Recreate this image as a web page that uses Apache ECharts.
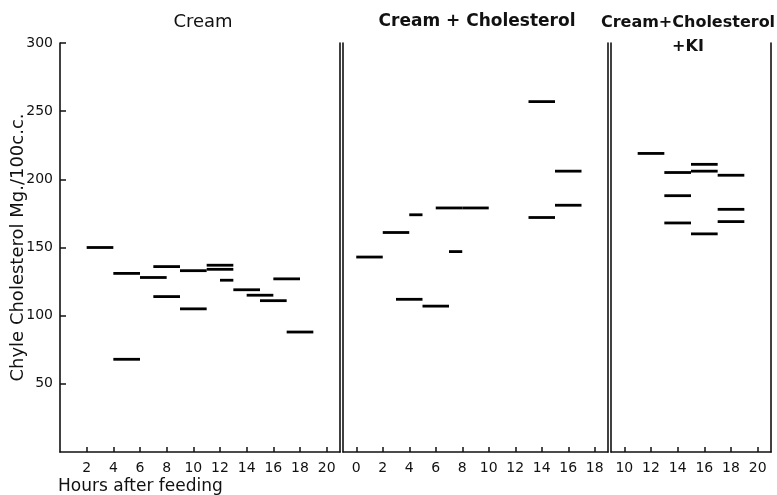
<!DOCTYPE html>
<html><head><meta charset="utf-8">
<script src="https://cdn.jsdelivr.net/npm/echarts@6/dist/echarts.min.js"></script>
<style>html,body{margin:0;padding:0;background:#fff}#c{width:777px;height:495px}</style>
</head><body><div id="c"></div>
<script>
// Tick labels
const yTicks = [50, 100, 150, 200, 250, 300];
const creamTicks = [2, 4, 6, 8, 10, 12, 14, 16, 18, 20];
const cholTicks = [0, 2, 4, 6, 8, 10, 12, 14, 16, 18];
const kiTicks = [10, 12, 14, 16, 18, 20];
// Panel titles
const panelTitles = ['Cream', 'Cream + Cholesterol', 'Cream+Cholesterol\n+KI'];
// Panel 1: Cream (start hour, end hour, value)
const creamStart = [2, 4, 4, 6, 7, 7, 9, 9, 11, 11, 12, 13, 14, 15, 16, 17];
const creamEnd   = [4, 6, 6, 8, 9, 9, 11, 11, 13, 13, 13, 15, 16, 17, 18, 19];
const creamValue = [150, 131, 68, 128, 136, 114, 133, 105, 137, 134, 126, 119, 115, 111, 127, 88];
// Panel 2: Cream + Cholesterol
const cholStart = [0, 2, 3, 4, 5, 6, 7, 8, 13, 13, 15, 15];
const cholEnd   = [2, 4, 5, 5, 7, 8, 8, 10, 15, 15, 17, 17];
const cholValue = [143, 161, 112, 174, 107, 179, 147, 179, 257, 172, 206, 181];
// Panel 3: Cream + Cholesterol + KI
const kiStart = [11, 13, 13, 13, 15, 15, 15, 17, 17, 17];
const kiEnd   = [13, 15, 15, 15, 17, 17, 17, 19, 19, 19];
const kiValue = [219, 205, 188, 168, 211, 206, 160, 203, 178, 169];

const font = '"DejaVu Sans", sans-serif';
const chart = echarts.init(document.getElementById('c'), null, {renderer: 'canvas'});

const grids = [
  {left: 60, width: 280, top: 43, bottom: 43},
  {left: 343, width: 265, top: 43, bottom: 43},
  {left: 611, width: 160, top: 43, bottom: 43}
];
const xRanges = [[0, 21, creamTicks], [-1, 19, cholTicks], [9, 21, kiTicks]];
const lineStyle = {color: '#111', width: 1.6};

const xAxes = xRanges.map((r, i) => ({
  type: 'value', gridIndex: i, min: r[0], max: r[1],
  axisLine: {show: true, onZero: false, lineStyle},
  axisTick: {show: true, inside: true, length: 5, customValues: r[2], lineStyle: {color: '#111', width: 1.5}},
  axisLabel: {show: true, customValues: r[2], color: '#111', fontFamily: font, fontSize: 14, margin: 9},
  splitLine: {show: false}
}));

const yAxes = [];
grids.forEach((g, i) => {
  yAxes.push({
    type: 'value', gridIndex: i, min: 0, max: 300, position: 'left',
    axisLine: {show: true, onZero: false, lineStyle},
    axisTick: {show: i === 0, inside: true, length: 6, customValues: yTicks, lineStyle: {color: '#111', width: 1.5}},
    axisLabel: {show: i === 0, customValues: yTicks, color: '#111', fontFamily: font, fontSize: 14, margin: 7},
    splitLine: {show: false},
    name: i === 0 ? 'Chyle Cholesterol Mg./100c.c.' : '',
    nameLocation: 'middle', nameGap: 33, nameRotate: 90, nameMoveOverlap: false,
    nameTextStyle: {fontFamily: font, fontSize: 18, color: '#111'}
  });
  yAxes.push({
    type: 'value', gridIndex: i, min: 0, max: 300, position: 'right',
    axisLine: {show: true, onZero: false, lineStyle},
    axisTick: {show: false}, axisLabel: {show: false}, splitLine: {show: false}
  });
});

function dashSeries(idx, start, end, value) {
  return {
    type: 'custom', xAxisIndex: idx, yAxisIndex: idx * 2, silent: true,
    data: start.map((s, i) => [s, end[i], value[i]]),
    encode: {x: [0, 1], y: 2},
    renderItem: (params, api) => {
      const p0 = api.coord([api.value(0), api.value(2)]);
      const p1 = api.coord([api.value(1), api.value(2)]);
      return {type: 'line', shape: {x1: p0[0], y1: p0[1], x2: p1[0], y2: p1[1]},
        style: {stroke: '#000', lineWidth: 2.8}};
    }
  };
}

const titleCenters = [[203, 22, 'normal', 18], [477, 22, 'bold', 17], [688, 35, 'bold', 16]];
const graphics = panelTitles.map((t, i) => ({
  type: 'text', x: titleCenters[i][0], y: titleCenters[i][1],
  style: {text: t, textAlign: 'center', textVerticalAlign: 'middle', lineHeight: 24,
    font: titleCenters[i][2] + ' ' + titleCenters[i][3] + 'px ' + font, fill: '#111'}
}));
graphics.push({type: 'text', x: 58, y: 487,
  style: {text: 'Hours after feeding', textAlign: 'left', textVerticalAlign: 'middle',
    font: 'normal 17px ' + font, fill: '#111'}});

chart.setOption({
  animation: false,
  backgroundColor: '#fff',
  grid: grids,
  xAxis: xAxes,
  yAxis: yAxes,
  graphic: graphics,
  series: [
    dashSeries(0, creamStart, creamEnd, creamValue),
    dashSeries(1, cholStart, cholEnd, cholValue),
    dashSeries(2, kiStart, kiEnd, kiValue)
  ]
});
</script>
</body></html>
